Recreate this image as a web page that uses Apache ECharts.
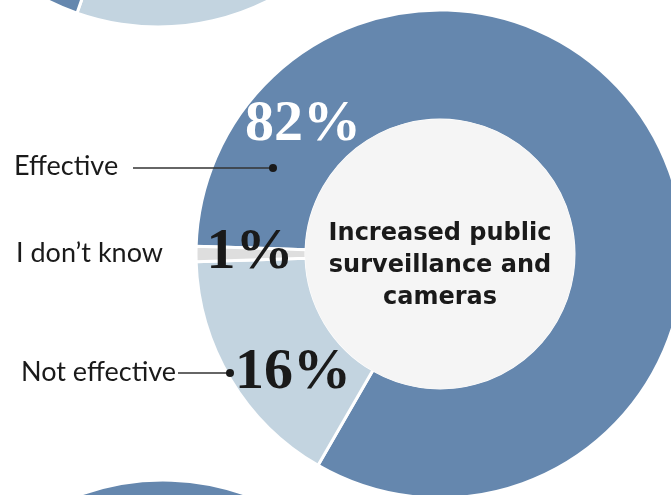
<!DOCTYPE html>
<html>
<head>
<meta charset="utf-8">
<script src="https://cdn.jsdelivr.net/npm/echarts@6/dist/echarts.min.js"></script>
<style>
  html, body { margin: 0; padding: 0; background: #ffffff; }
  #chart { width: 671px; height: 495px; }
</style>
</head>
<body>
<div id="chart"></div>
<script>
// Survey answers for "Increased public surveillance and cameras"
const categories = ['Effective', 'Not effective', 'I don’t know'];
const shares = [82, 16, 1];
const questionTitle = 'Increased public\nsurveillance and\ncameras';

// Neighbouring questions in the column (only their edges fall inside the view)
const upperCategories = ['Not effective', 'Effective', 'I don’t know'];
const upperShares = [53, 45, 2];
const lowerCategories = ['Effective', 'Not effective', 'I don’t know'];
const lowerShares = [70, 28, 2];

const palette = {
  'Effective': '#6587ae',
  'Not effective': '#c3d4e0',
  'I don’t know': '#dedede'
};

const CX = 440, CY = 254, R_IN = 134, R_OUT = 244;

function pieData(names, values) {
  return names.map((n, i) => ({ name: n, value: values[i], itemStyle: { color: palette[n] } }));
}

function ring(center, names, values, startAngle) {
  return {
    type: 'pie',
    center: center,
    radius: [R_IN, R_OUT],
    startAngle: startAngle,
    clockwise: true,
    silent: true,
    z: 2,
    label: { show: false },
    labelLine: { show: false },
    itemStyle: { borderColor: '#ffffff', borderWidth: 3 },
    data: pieData(names, values)
  };
}

const chart = echarts.init(document.getElementById('chart'), null, { renderer: 'canvas' });

const sansLabel = '27px Lato';
const serifNum = 'bold 58px "Liberation Serif"';
const ink = '#1a1a1a';

const graphics = [
  // hub of the main ring, laid over the ring's inner border
  { type: 'circle', z: 50, shape: { cx: CX, cy: CY, r: R_IN + 1 }, style: { fill: '#f5f5f5' }, silent: true },
  // question title
  { type: 'text', z: 100, x: CX, y: 266, style: {
      text: questionTitle, font: 'bold 24px "DejaVu Sans"', fill: ink,
      align: 'center', verticalAlign: 'middle', lineHeight: 32 } },
  // share figures
  { type: 'text', z: 100, x: 303, y: 125, style: {
      text: shares[0] + '%', font: serifNum, fill: '#ffffff', align: 'center', verticalAlign: 'middle' } },
  { type: 'text', z: 100, x: 250, y: 253, style: {
      text: shares[2] + '%', font: serifNum, fill: ink, align: 'center', verticalAlign: 'middle' } },
  { type: 'text', z: 100, x: 293, y: 373, style: {
      text: shares[1] + '%', font: serifNum, fill: ink, align: 'center', verticalAlign: 'middle' } },
  // category names
  { type: 'text', z: 100, x: 14, y: 166, style: {
      text: categories[0], font: sansLabel, fill: ink, align: 'left', verticalAlign: 'middle' } },
  { type: 'text', z: 100, x: 16, y: 253, style: {
      text: categories[2], font: sansLabel, fill: ink, align: 'left', verticalAlign: 'middle' } },
  { type: 'text', z: 100, x: 21, y: 372, style: {
      text: categories[1], font: sansLabel, fill: ink, align: 'left', verticalAlign: 'middle' } },
  // leader lines with end dots
  { type: 'line', z: 100, shape: { x1: 133, y1: 168, x2: 273, y2: 168 }, style: { stroke: '#333333', lineWidth: 1.3 } },
  { type: 'circle', z: 100, shape: { cx: 273, cy: 168, r: 4 }, style: { fill: '#1a1a1a' } },
  { type: 'line', z: 100, shape: { x1: 178, y1: 373, x2: 230, y2: 373 }, style: { stroke: '#333333', lineWidth: 1.3 } },
  { type: 'circle', z: 100, shape: { cx: 230, cy: 373, r: 4 }, style: { fill: '#1a1a1a' } }
];

chart.setOption({
  animation: false,
  backgroundColor: '#ffffff',
  series: [
    ring([CX, CY], categories, shares, 178.2),
    ring([158, -217], upperCategories, upperShares, 81.4),
    ring([163, 724], lowerCategories, lowerShares, 178)
  ],
  graphic: graphics
});
</script>
</body>
</html>
